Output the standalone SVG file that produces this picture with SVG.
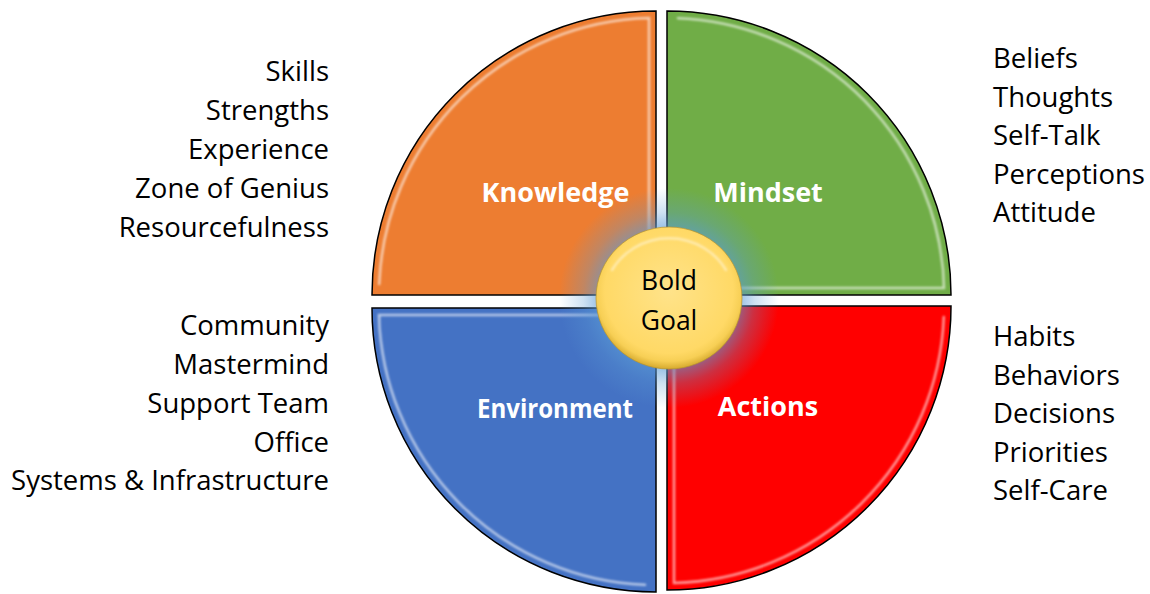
<svg xmlns="http://www.w3.org/2000/svg" width="1150" height="594" viewBox="0 0 1150 594">
<style>
.q{stroke:#000;stroke-width:1.5;stroke-linejoin:miter}
.hl{fill:none;stroke:#fff;stroke-width:2.5;stroke-opacity:0.6;stroke-linecap:round;filter:url(#soft)}
.lbl{font-family:"Open Sans","Noto Sans","Liberation Sans",sans-serif;font-weight:bold;font-size:27px;fill:#fff;text-anchor:middle}
.side{font-family:"Open Sans","Noto Sans","Liberation Sans",sans-serif;font-size:27.5px;fill:#000}
.r{text-anchor:end}
.goal{font-family:"Open Sans","Noto Sans","Liberation Sans",sans-serif;font-size:26.5px;fill:#000;text-anchor:middle}
</style>
<defs>
<filter id="soft" x="-10%" y="-10%" width="120%" height="120%"><feGaussianBlur stdDeviation="0.8"/></filter>
<path id="qshape" d="M0 0 L-284 0 A284 284 0 0 1 0 -284 Z"/>
<path id="qhl" d="M-276.8 -11 A277 277 0 0 1 -7 -276.9 L-7 -12"/>
<radialGradient id="glow" gradientUnits="userSpaceOnUse" cx="669" cy="298" r="110">
<stop offset="0.6" stop-color="#5B9BD5" stop-opacity="0.7"/>
<stop offset="0.78" stop-color="#5B9BD5" stop-opacity="0.3"/>
<stop offset="1" stop-color="#5B9BD5" stop-opacity="0"/>
</radialGradient>
<radialGradient id="yel" cx="50%" cy="45%" r="55%">
<stop offset="0" stop-color="#FFE38A"/>
<stop offset="0.8" stop-color="#FFD966"/>
<stop offset="0.9" stop-color="#F7CF55"/>
<stop offset="1" stop-color="#D6AA2E"/>
</radialGradient>
</defs>

<g id="knowledge">
<g transform="translate(656,295)">
<use href="#qshape" class="q" fill="#ED7D31"/>
<use href="#qhl" class="hl"/>
</g>
<text class="lbl" x="555.5" y="202">Knowledge</text>
</g>

<g id="mindset">
<g transform="translate(667,295) rotate(90)">
<use href="#qshape" class="q" fill="#70AD47"/>
<use href="#qhl" class="hl"/>
</g>
<text class="lbl" x="768" y="202">Mindset</text>
</g>

<g id="actions">
<g transform="translate(667,306) rotate(180)">
<use href="#qshape" class="q" fill="#FF0000"/>
<use href="#qhl" class="hl"/>
</g>
<text class="lbl" x="768" y="416">Actions</text>
</g>

<g id="environment">
<g transform="translate(656,308) rotate(270)">
<use href="#qshape" class="q" fill="#4472C4"/>
<use href="#qhl" class="hl"/>
</g>
<text class="lbl" x="555" y="418" textLength="156" lengthAdjust="spacingAndGlyphs">Environment</text>
</g>

<g id="bold-goal">
<circle cx="669" cy="298" r="110" fill="url(#glow)"/>
<ellipse cx="669" cy="298" rx="73" ry="71" fill="url(#yel)" stroke="#B8942E" stroke-width="1" stroke-opacity="0.7"/>
<path d="M612 270 A66 64 0 0 1 726 270" fill="none" stroke="#fff" stroke-width="2.5" stroke-opacity="0.45" stroke-linecap="round" filter="url(#soft)"/>
<text class="goal" x="669" y="290">Bold</text>
<text class="goal" x="669" y="330">Goal</text>
</g>

<g id="knowledge-list">
<text class="side r" x="329" y="81">Skills</text>
<text class="side r" x="329" y="120">Strengths</text>
<text class="side r" x="329" y="159">Experience</text>
<text class="side r" x="329" y="198">Zone of Genius</text>
<text class="side r" x="329" y="237">Resourcefulness</text>
</g>

<g id="mindset-list">
<text class="side" x="993" y="68">Beliefs</text>
<text class="side" x="993" y="107">Thoughts</text>
<text class="side" x="993" y="145">Self-Talk</text>
<text class="side" x="993" y="184">Perceptions</text>
<text class="side" x="993" y="222">Attitude</text>
</g>

<g id="environment-list">
<text class="side r" x="329" y="335">Community</text>
<text class="side r" x="329" y="374">Mastermind</text>
<text class="side r" x="329" y="413">Support Team</text>
<text class="side r" x="329" y="452">Office</text>
<text class="side r" x="329" y="490">Systems &amp; Infrastructure</text>
</g>

<g id="actions-list">
<text class="side" x="993" y="346">Habits</text>
<text class="side" x="993" y="385">Behaviors</text>
<text class="side" x="993" y="423">Decisions</text>
<text class="side" x="993" y="462">Priorities</text>
<text class="side" x="993" y="500">Self-Care</text>
</g>
</svg>
